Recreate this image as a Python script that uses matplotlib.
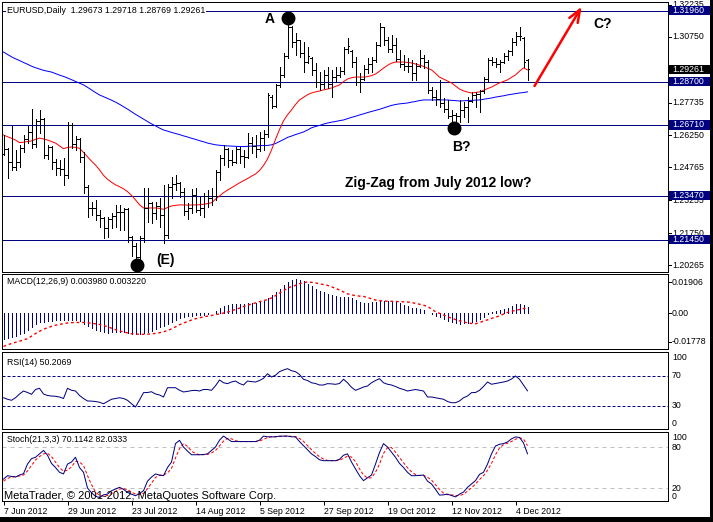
import matplotlib
matplotlib.use("Agg")
import matplotlib.pyplot as plt
import matplotlib.transforms as mtransforms
from matplotlib.patches import Rectangle
import numpy as np

# EURUSD daily bars, 7 Jun 2012 - 7 Dec 2012
opens = [
    1.2540, 1.2560, 1.2500, 1.2480, 1.2500, 1.2565, 1.2605, 1.2640, 1.2585, 1.2690,
    1.2700, 1.2535, 1.2568, 1.2500, 1.2475, 1.2470, 1.2440, 1.2671, 1.2585, 1.2605,
    1.2525, 1.2385, 1.2290, 1.2290, 1.2260, 1.2245, 1.2200, 1.2240, 1.2255, 1.2270,
    1.2270, 1.2285, 1.2155, 1.2115, 1.2065, 1.2150, 1.2290, 1.2315, 1.2265, 1.2300,
    1.2260, 1.2166, 1.2385, 1.2400, 1.2405, 1.2365, 1.2275, 1.2290, 1.2350, 1.2280,
    1.2290, 1.2345, 1.2335, 1.2345, 1.2455, 1.2520, 1.2560, 1.2510, 1.2500, 1.2560,
    1.2530, 1.2525, 1.2590, 1.2575, 1.2560, 1.2610, 1.2630, 1.2800, 1.2760, 1.2855,
    1.2900, 1.2990, 1.3120, 1.3050, 1.3060, 1.3000, 1.2960, 1.2980, 1.2925, 1.2870,
    1.2860, 1.2900, 1.2860, 1.2890, 1.2900, 1.2920, 1.3020, 1.3010, 1.2960, 1.2870,
    1.2880, 1.2930, 1.2950, 1.2970, 1.3040, 1.3120, 1.3060, 1.3020, 1.3040, 1.2975,
    1.2950, 1.2940, 1.2940, 1.2910, 1.2940, 1.2980, 1.2960, 1.2830, 1.2800, 1.2790,
    1.2770, 1.2745, 1.2710, 1.2715, 1.2710, 1.2740, 1.2755, 1.2780, 1.2810, 1.2815,
    1.2825, 1.2880, 1.2970, 1.2960, 1.2950, 1.2960, 1.2990, 1.3010, 1.3050, 1.3080,
    1.3070, 1.29673]
highs = [
    1.2625, 1.2566, 1.2667, 1.2556, 1.2580, 1.2625, 1.2665, 1.2745, 1.2700, 1.2740,
    1.2705, 1.2580, 1.2575, 1.2515, 1.2510, 1.2519, 1.2685, 1.2680, 1.2620, 1.2610,
    1.2545, 1.2396, 1.2318, 1.2327, 1.2281, 1.2249, 1.2249, 1.2267, 1.2304, 1.2304,
    1.2290, 1.2290, 1.2160, 1.2130, 1.2160, 1.2382, 1.2382, 1.2318, 1.2318, 1.2336,
    1.2396, 1.2400, 1.2432, 1.2440, 1.2410, 1.2380, 1.2313, 1.2375, 1.2380, 1.2341,
    1.2359, 1.2373, 1.2382, 1.2464, 1.2533, 1.2579, 1.2565, 1.2556, 1.2570, 1.2570,
    1.2556, 1.2634, 1.2616, 1.2625, 1.2639, 1.2648, 1.2818, 1.2809, 1.2860, 1.2935,
    1.3002, 1.3139, 1.3125, 1.3093, 1.3061, 1.3052, 1.3029, 1.2983, 1.2956, 1.2914,
    1.2924, 1.2937, 1.2924, 1.2937, 1.2937, 1.3029, 1.3070, 1.3015, 1.2983, 1.2910,
    1.2946, 1.2979, 1.2983, 1.3052, 1.3139, 1.3121, 1.3075, 1.3084, 1.3070, 1.3015,
    1.2992, 1.2979, 1.2969, 1.2956, 1.3015, 1.2992, 1.2969, 1.2845, 1.2832, 1.2878,
    1.2795, 1.2786, 1.2740, 1.2726, 1.2786, 1.2777, 1.2800, 1.2823, 1.2823, 1.2832,
    1.2891, 1.2979, 1.2983, 1.2979, 1.2969, 1.3002, 1.3015, 1.3070, 1.3098, 1.3121,
    1.3075, 1.29718]
lows = [
    1.2533, 1.2428, 1.2464, 1.2464, 1.2480, 1.2545, 1.2590, 1.2565, 1.2570, 1.2635,
    1.2519, 1.2515, 1.2470, 1.2440, 1.2440, 1.2395, 1.2428, 1.2565, 1.2556, 1.2500,
    1.2359, 1.2249, 1.2258, 1.2235, 1.2203, 1.2152, 1.2157, 1.2200, 1.2203, 1.2189,
    1.2189, 1.2134, 1.2068, 1.2042, 1.2050, 1.2135, 1.2226, 1.2221, 1.2240, 1.2203,
    1.2130, 1.2150, 1.2336, 1.2373, 1.2341, 1.2258, 1.2240, 1.2267, 1.2272, 1.2258,
    1.2249, 1.2295, 1.2304, 1.2327, 1.2419, 1.2487, 1.2478, 1.2487, 1.2495, 1.2497,
    1.2478, 1.2520, 1.2543, 1.2524, 1.2550, 1.2556, 1.2616, 1.2749, 1.2755, 1.2845,
    1.2891, 1.2979, 1.3029, 1.2992, 1.2983, 1.2914, 1.2956, 1.2901, 1.2845, 1.2832,
    1.2841, 1.2841, 1.2800, 1.2868, 1.2891, 1.2905, 1.3002, 1.2937, 1.2855, 1.2823,
    1.2878, 1.2910, 1.2914, 1.2960, 1.3035, 1.3038, 1.3006, 1.3006, 1.2965, 1.2937,
    1.2924, 1.2914, 1.2878, 1.2878, 1.2937, 1.2933, 1.2818, 1.2786, 1.2763, 1.2754,
    1.2731, 1.2703, 1.2685, 1.2661, 1.2685, 1.2708, 1.2685, 1.2777, 1.2754, 1.2731,
    1.2820, 1.2868, 1.2946, 1.2937, 1.2914, 1.2956, 1.2969, 1.2992, 1.3038, 1.3061,
    1.2937, 1.28769]
closes = [
    1.2560, 1.2500, 1.2480, 1.2500, 1.2565, 1.2605, 1.2640, 1.2585, 1.2690, 1.2700,
    1.2535, 1.2568, 1.2500, 1.2475, 1.2470, 1.2440, 1.2671, 1.2585, 1.2605, 1.2525,
    1.2385, 1.2290, 1.2290, 1.2260, 1.2245, 1.2200, 1.2240, 1.2255, 1.2270, 1.2270,
    1.2285, 1.2155, 1.2115, 1.2065, 1.2150, 1.2290, 1.2315, 1.2265, 1.2300, 1.2260,
    1.2166, 1.2385, 1.2400, 1.2405, 1.2365, 1.2275, 1.2290, 1.2350, 1.2280, 1.2290,
    1.2345, 1.2335, 1.2345, 1.2455, 1.2520, 1.2560, 1.2510, 1.2500, 1.2560, 1.2530,
    1.2525, 1.2590, 1.2575, 1.2560, 1.2610, 1.2630, 1.2810, 1.2760, 1.2855, 1.2900,
    1.2990, 1.3120, 1.3050, 1.3060, 1.3000, 1.2960, 1.2990, 1.2925, 1.2870, 1.2860,
    1.2900, 1.2860, 1.2890, 1.2900, 1.2920, 1.3020, 1.3035, 1.2960, 1.2870, 1.2880,
    1.2930, 1.2950, 1.2970, 1.3040, 1.3120, 1.3060, 1.3020, 1.3040, 1.2975, 1.2950,
    1.2940, 1.2940, 1.2910, 1.2940, 1.2980, 1.2960, 1.2830, 1.2800, 1.2790, 1.2770,
    1.2745, 1.2710, 1.2715, 1.2710, 1.2740, 1.2755, 1.2780, 1.2810, 1.2815, 1.2825,
    1.2880, 1.2970, 1.2960, 1.2950, 1.2960, 1.2990, 1.3010, 1.3050, 1.3080, 1.3080,
    1.2960, 1.29261]

# moving averages (red = fast, blue = slow)
ma_red = [
    1.2625, 1.2617, 1.2610, 1.2602, 1.2590, 1.2592, 1.2595, 1.2598, 1.2605, 1.2611,
    1.2607, 1.2602, 1.2595, 1.2588, 1.2575, 1.2562, 1.2568, 1.2570, 1.2568, 1.2564,
    1.2545, 1.2525, 1.2505, 1.2487, 1.2465, 1.2440, 1.2422, 1.2408, 1.2396, 1.2388,
    1.2378, 1.2365, 1.2348, 1.2327, 1.2305, 1.2290, 1.2290, 1.2290, 1.2290, 1.2288,
    1.2284, 1.2292, 1.2299, 1.2302, 1.2304, 1.2304, 1.2303, 1.2304, 1.2304, 1.2305,
    1.2307, 1.2310, 1.2314, 1.2330, 1.2345, 1.2360, 1.2372, 1.2383, 1.2394, 1.2405,
    1.2415, 1.2425, 1.2436, 1.2446, 1.2462, 1.2485, 1.2515, 1.2556, 1.2605, 1.2650,
    1.2690, 1.2718, 1.2740, 1.2765, 1.2786, 1.2798, 1.2810, 1.2818, 1.2823, 1.2827,
    1.2832, 1.2836, 1.2841, 1.2848, 1.2855, 1.2870, 1.2882, 1.2888, 1.2891, 1.2891,
    1.2891, 1.2893, 1.2898, 1.2905, 1.2918, 1.2932, 1.2945, 1.2955, 1.2960, 1.2960,
    1.2960, 1.2958, 1.2956, 1.2951, 1.2946, 1.2940, 1.2932, 1.2924, 1.2908, 1.2891,
    1.2882, 1.2873, 1.2864, 1.2850, 1.2836, 1.2828, 1.2822, 1.2818, 1.2820, 1.2823,
    1.2830, 1.2838, 1.2845, 1.2855, 1.2864, 1.2871, 1.2878, 1.2890, 1.2901, 1.2918,
    1.2933, 1.2924]
ma_blue = [
    1.3006, 1.2995, 1.2984, 1.2975, 1.2967, 1.2958, 1.2950, 1.2941, 1.2934, 1.2928,
    1.2922, 1.2918, 1.2914, 1.2907, 1.2900, 1.2894, 1.2887, 1.2879, 1.2871, 1.2863,
    1.2855, 1.2844, 1.2832, 1.2820, 1.2809, 1.2801, 1.2793, 1.2785, 1.2776, 1.2766,
    1.2755, 1.2744, 1.2732, 1.2720, 1.2709, 1.2698, 1.2687, 1.2676, 1.2667, 1.2657,
    1.2648, 1.2643, 1.2637, 1.2632, 1.2627, 1.2621, 1.2616, 1.2610, 1.2605, 1.2599,
    1.2594, 1.2588, 1.2584, 1.2580, 1.2578, 1.2576, 1.2575, 1.2574, 1.2573, 1.2572,
    1.2572, 1.2573, 1.2574, 1.2575, 1.2576, 1.2577, 1.2577, 1.2580, 1.2586, 1.2595,
    1.2604, 1.2614, 1.2620, 1.2627, 1.2633, 1.2639, 1.2648, 1.2658, 1.2664, 1.2669,
    1.2675, 1.2680, 1.2684, 1.2687, 1.2691, 1.2694, 1.2700, 1.2706, 1.2711, 1.2717,
    1.2722, 1.2728, 1.2733, 1.2738, 1.2743, 1.2749, 1.2755, 1.2761, 1.2765, 1.2768,
    1.2770, 1.2772, 1.2776, 1.2779, 1.2783, 1.2786, 1.2786, 1.2786, 1.2786, 1.2786,
    1.2786, 1.2786, 1.2784, 1.2783, 1.2781, 1.2782, 1.2783, 1.2784, 1.2785, 1.2786,
    1.2789, 1.2792, 1.2795, 1.2799, 1.2802, 1.2805, 1.2809, 1.2812, 1.2815, 1.2818,
    1.2820, 1.2823]

# MACD(12,26,9)
macd_hist = [
    -0.0162, -0.0155, -0.0147, -0.0139, -0.0130, -0.0120, -0.0105, -0.0088, -0.0070, -0.0055,
    -0.0052, -0.0050, -0.0048, -0.0045, -0.0042, -0.0042, -0.0040, -0.0040, -0.0042, -0.0050,
    -0.0065, -0.0080, -0.0092, -0.0102, -0.0110, -0.0118, -0.0120, -0.0118, -0.0116, -0.0115,
    -0.0117, -0.0122, -0.0126, -0.0130, -0.0130, -0.0122, -0.0114, -0.0108, -0.0098, -0.0088,
    -0.0080, -0.0068, -0.0055, -0.0042, -0.0030, -0.0022, -0.0018, -0.0016, -0.0014, -0.0012,
    -0.0010, -0.0006, -0.0002, 0.0012, 0.0030, 0.0042, 0.0050, 0.0054, 0.0056, 0.0058,
    0.0058, 0.0060, 0.0062, 0.0064, 0.0066, 0.0072, 0.0090, 0.0108, 0.0128, 0.0148,
    0.0170, 0.0192, 0.0205, 0.0208, 0.0206, 0.0195, 0.0180, 0.0165, 0.0150, 0.0138,
    0.0128, 0.0118, 0.0108, 0.0102, 0.0098, 0.0098, 0.0096, 0.0090, 0.0080, 0.0068,
    0.0064, 0.0064, 0.0066, 0.0068, 0.0072, 0.0074, 0.0072, 0.0070, 0.0066, 0.0060,
    0.0052, 0.0042, 0.0034, 0.0028, 0.0024, 0.0016, 0.0002, -0.0008, -0.0018, -0.0026,
    -0.0036, -0.0046, -0.0056, -0.0064, -0.0066, -0.0064, -0.0060, -0.0054, -0.0046, -0.0036,
    -0.0024, -0.0008, 0.0004, 0.0012, 0.0018, 0.0024, 0.0032, 0.0042, 0.0056, 0.0058,
    0.0048, 0.0040]
macd_signal = [
    -0.0205, -0.0196, -0.0187, -0.0180, -0.0173, -0.0165, -0.0158, -0.0142, -0.0126, -0.0112,
    -0.0100, -0.0090, -0.0082, -0.0075, -0.0070, -0.0065, -0.0061, -0.0059, -0.0058, -0.0058,
    -0.0058, -0.0060, -0.0063, -0.0066, -0.0070, -0.0076, -0.0084, -0.0093, -0.0102, -0.0110,
    -0.0116, -0.0122, -0.0127, -0.0129, -0.0130, -0.0131, -0.0130, -0.0128, -0.0125, -0.0121,
    -0.0115, -0.0108, -0.0097, -0.0085, -0.0072, -0.0062, -0.0052, -0.0043, -0.0035, -0.0029,
    -0.0024, -0.0019, -0.0015, -0.0010, -0.0005, 0.0000, 0.0006, 0.0014, 0.0022, 0.0030,
    0.0040, 0.0048, 0.0055, 0.0062, 0.0070, 0.0077, 0.0082, 0.0093, 0.0107, 0.0122,
    0.0138, 0.0152, 0.0163, 0.0170, 0.0180, 0.0187, 0.0191, 0.0189, 0.0185, 0.0180,
    0.0175, 0.0170, 0.0161, 0.0152, 0.0142, 0.0130, 0.0118, 0.0112, 0.0107, 0.0104,
    0.0102, 0.0095, 0.0088, 0.0080, 0.0076, 0.0074, 0.0073, 0.0072, 0.0071, 0.0070,
    0.0069, 0.0068, 0.0065, 0.0059, 0.0054, 0.0048, 0.0041, 0.0024, 0.0008, -0.0002,
    -0.0012, -0.0022, -0.0032, -0.0040, -0.0048, -0.0055, -0.0060, -0.0064, -0.0066, -0.0058,
    -0.0050, -0.0042, -0.0033, -0.0025, -0.0018, -0.0006, 0.0004, 0.0011, 0.0016, 0.0022,
    0.0027, 0.0032]

# RSI(14)
rsi = [
    41, 39, 37.6, 41, 46, 50, 48, 45.6, 52, 53.6,
    46, 44, 43.3, 43, 42, 40, 53.6, 51, 50, 44,
    40, 36.7, 36.5, 36, 35, 33, 36, 39, 40, 41,
    40, 37.6, 33, 28.7, 38, 47.8, 48, 49, 46, 44.7,
    42, 54.4, 54.4, 54.4, 51, 48.7, 49.5, 50.5, 50.9, 50,
    52, 52, 50.9, 57, 64.7, 61, 59.8, 62, 63.3, 60,
    58, 63.3, 62.5, 62, 64, 66.9, 73, 68.7, 71, 75.8,
    78, 79.8, 77, 75.8, 72, 65.6, 64, 61, 60, 58,
    58, 59.8, 59.5, 58.9, 60, 65.6, 61, 55, 50.9, 53,
    55.3, 56.7, 61, 64, 66.4, 61, 59, 58, 56, 53.6,
    52, 50, 51, 52, 51, 50, 42, 42, 41, 40,
    39, 36, 34.4, 34.4, 36.7, 41, 43.3, 47.8, 48, 50.9,
    56, 62, 59, 60, 61, 62, 63.3, 66, 70, 65.6,
    58, 50.2069]

# Stochastic(21,3,3)
stoch_k = [
    33, 38, 37, 36, 39, 41, 55, 63, 65, 70,
    75, 68, 56, 50, 43, 40.6, 55, 58, 65, 50,
    43, 20, 13, 8, 6, 10, 11, 16, 18.5, 21,
    18, 13.6, 11, 8.7, 12, 16, 30, 36, 40.6, 39,
    38, 50, 58, 85, 89.8, 80, 74, 68.7, 68.7, 68.7,
    69, 70, 75, 80, 90, 96, 92, 88, 88, 88,
    88, 88, 88, 88, 90, 96, 95, 94.8, 95, 96,
    96, 96, 95, 94.8, 88, 82, 76, 70, 66, 61.3,
    60, 60, 60, 60, 62, 68, 70, 58, 48, 38,
    30.8, 35, 39, 55, 72, 85, 80, 72.6, 65, 56,
    50, 43, 38, 38, 38.5, 39, 30, 26, 18, 9.6,
    10, 11, 9, 7, 11, 14, 21, 26, 30.8, 40,
    43, 55, 70, 81.5, 84, 85, 87.4, 92, 94.8, 94,
    86, 70.1142]
stoch_d = [
    30, 34, 36, 37, 37.5, 39, 45, 53, 61, 66,
    70, 71, 66, 58, 50, 44.5, 46, 51, 59, 58,
    53, 38, 25, 14, 9, 8, 9, 12, 15, 18.5,
    19, 17.5, 14, 11, 10.5, 12, 19, 27, 35.5, 38.5,
    39, 42, 48.7, 64, 77.6, 85, 81, 74, 70.5, 68.7,
    68.8, 69.2, 71.3, 75, 81.7, 88.7, 92.7, 92, 89.3, 88,
    88, 88, 88, 88, 88.7, 91.3, 93.7, 95.3, 95, 95.3,
    95.7, 96, 95.7, 95.3, 92.6, 88.3, 82, 76, 70.7, 65.8,
    62.4, 60.4, 60, 60, 60.7, 63.3, 66.7, 65.3, 58.7, 48,
    39, 34.6, 35, 43, 55, 70.7, 79, 79.2, 72.5, 64.5,
    57, 49.7, 43.7, 39.7, 38.2, 38.5, 35.8, 31.7, 24.7, 17.9,
    12.5, 10.2, 10, 9, 9, 10.7, 15.3, 20.3, 25.9, 32.3,
    37.9, 46, 56, 68.8, 78.5, 83.5, 85.5, 88.1, 91.4, 93.6,
    91.6, 82.0333]

levels = [1.3196, 1.2870, 1.2671, 1.2347, 1.2145]
price_ticks = [1.32235, 1.30750, 1.29245, 1.27735, 1.26250, 1.24765, 1.23255, 1.21750, 1.20265]
date_idx = [0, 16, 32, 48, 64, 80, 96, 112, 128]
date_labels = ["7 Jun 2012", "29 Jun 2012", "23 Jul 2012", "14 Aug 2012", "5 Sep 2012",
               "27 Sep 2012", "19 Oct 2012", "12 Nov 2012", "4 Dec 2012"]

NAVY = "#000080"
FS = 6.3
PX = 0.72  # one pixel in points at dpi 100
plt.rcParams["font.family"] = ["Liberation Sans", "DejaVu Sans"]

W, H = 713, 522
fig = plt.figure(figsize=(W / 100, H / 100), dpi=100)
fig.patch.set_facecolor("white")


def panel(top, bottom):
    a = fig.add_axes([2 / W, 1 - bottom / H, 666 / W, (bottom - top) / H])
    a.set_xlim(-0.375, 166.125)
    a.set_xticks([])
    a.set_yticks([])
    for s in a.spines.values():
        s.set_linewidth(PX)
        s.set_color("black")
    return a


def rlabel(a, y, s, va="center", **kw):
    tr = mtransforms.blended_transform_factory(a.transAxes, a.transData)
    a.text(1 + 4 / 666, y, s, transform=tr, va=va, ha="left", fontsize=FS,
           clip_on=False, **kw)


x = np.arange(len(closes))

# ---------------- main price panel ----------------
ax = panel(2, 272)
ax.set_ylim(1.19960, 1.32357)
tr = mtransforms.blended_transform_factory(ax.transAxes, ax.transData)

for lv in levels:
    ax.axhline(lv, color=NAVY, lw=PX, zorder=1)

ax.plot(x, ma_blue, color="#0000ff", lw=PX, zorder=2)
ax.plot(x, ma_red, color="#ff0000", lw=PX, zorder=2)

ax.vlines(x, lows, highs, color="black", lw=PX, antialiased=False, zorder=3)
ax.hlines(opens, x - 0.45, x, color="black", lw=PX, antialiased=False, zorder=3)
ax.hlines(closes, x, x + 0.45, color="black", lw=PX, antialiased=False, zorder=3)

# right price scale
for v in price_ticks:
    ax.plot([1, 1 + 3 / 666], [v, v], transform=tr, color="black", lw=PX, clip_on=False)
    rlabel(ax, v, f"{v:.5f}")

box_h = 4.6 / 2178
for lv in levels + [closes[-1]]:
    fc = "black" if lv == closes[-1] else NAVY
    ax.add_patch(Rectangle((1 + 1 / 666, lv - box_h), 41 / 666, 2 * box_h, transform=tr,
                           facecolor=fc, edgecolor="none", clip_on=False, zorder=9))
    rlabel(ax, lv, f"{lv:.5f}", color="white", zorder=10)

ax.text(5 / 666, levels[0], "EURUSD,Daily  1.29673 1.29718 1.28769 1.29261", transform=tr,
        fontsize=FS, va="center", ha="left", zorder=6,
        bbox=dict(boxstyle="square,pad=0.1", fc="white", ec="none"))

# wave marks
ax.plot([71.1, 33.4, 112.6], [1.3163, 1.2028, 1.2655], "o", color="black", ms=9, zorder=5)
bold = dict(fontsize=10, fontweight="bold", color="black", zorder=6)
ax.text(66.6, 1.3158, "A", ha="center", va="center", **bold)
ax.text(114.4, 1.2570, "B?", ha="center", va="center", **bold)
ax.text(149.9, 1.3135, "C?", ha="center", va="center", **bold)
ax.text(40.6, 1.2051, "(E)", ha="center", va="center", **bold)
ax.text(85.4, 1.2405, "Zig-Zag from July 2012 low?", ha="left", va="center", **bold)
ax.annotate("", xy=(144.9, 1.3225), xytext=(132.4, 1.2839),
            arrowprops=dict(arrowstyle="->,head_length=0.9,head_width=0.35",
                            color="#ff0000", lw=1.8), annotation_clip=False, zorder=6)

# ---------------- MACD ----------------
am = panel(274, 349)
am.set_ylim(-0.0221, 0.0240)
am.vlines(x, 0, macd_hist, color=NAVY, lw=PX, antialiased=False)
am.plot(x, macd_signal, color="#ff0000", lw=1.0, ls=(0, (2, 2)))
am.text(5 / 666, 0.0195, "MACD(12,26,9) 0.003980 0.003220", transform=mtransforms.blended_transform_factory(am.transAxes, am.transData),
        fontsize=FS, va="center")
trm = mtransforms.blended_transform_factory(am.transAxes, am.transData)
for v, s in [(0.01906, "0.01906"), (0.0, "0.00"), (-0.01778, "-0.01778")]:
    am.plot([1, 1 + 3 / 666], [v, v], transform=trm, color="black", lw=PX, clip_on=False)
    rlabel(am, v, s)

# ---------------- RSI ----------------
ar = panel(352, 429)
ar.set_ylim(-0.67, 102)
ar.axhline(70, color=NAVY, lw=PX, ls=(0, (3, 2)))
ar.axhline(30, color=NAVY, lw=PX, ls=(0, (3, 2)))
ar.plot(x, rsi, color=NAVY, lw=PX)
ar.text(5 / 666, 88, "RSI(14) 50.2069", transform=mtransforms.blended_transform_factory(ar.transAxes, ar.transData),
        fontsize=FS, va="center")
rlabel(ar, 101, "100", va="top")
rlabel(ar, 70, "70")
rlabel(ar, 30, "30")
rlabel(ar, 0.5, "0", va="bottom")

# ---------------- Stochastic ----------------
ast = panel(432, 501)
ast.set_ylim(0.97, 102)
ast.axhline(80, color="#c0c0c0", lw=PX, ls=(0, (4, 4)))
ast.axhline(20, color="#c0c0c0", lw=PX, ls=(0, (4, 4)))
ast.plot(x, stoch_d, color="#ff0000", lw=PX, ls=(0, (3, 2)))
ast.plot(x, stoch_k, color=NAVY, lw=PX)
trs = mtransforms.blended_transform_factory(ast.transAxes, ast.transData)
ast.text(5 / 666, 91, "Stoch(21,3,3) 70.1142 82.0333", transform=trs, fontsize=FS, va="center")
ast.text(2 / 666, 1.5, "MetaTrader, \u00a9 2001-2012, MetaQuotes Software Corp.", transform=trs,
         fontsize=8, va="bottom", ha="left")
rlabel(ast, 101, "100", va="top")
rlabel(ast, 80, "80")
rlabel(ast, 20, "20")
rlabel(ast, 1.5, "0", va="bottom")

ast.set_xticks(date_idx)
ast.set_xticklabels(date_labels, ha="left", fontsize=FS)
ast.tick_params(axis="x", length=3, width=PX, pad=1.5, direction="out")

# window frame (right and bottom)
fig.patches.append(Rectangle((710 / W, 0), 3 / W, 1, transform=fig.transFigure,
                             facecolor="black", edgecolor="none"))
fig.patches.append(Rectangle((0, 0), 1, 5 / H, transform=fig.transFigure,
                             facecolor="black", edgecolor="none"))

fig.savefig("out.png", dpi=100, facecolor="white")
